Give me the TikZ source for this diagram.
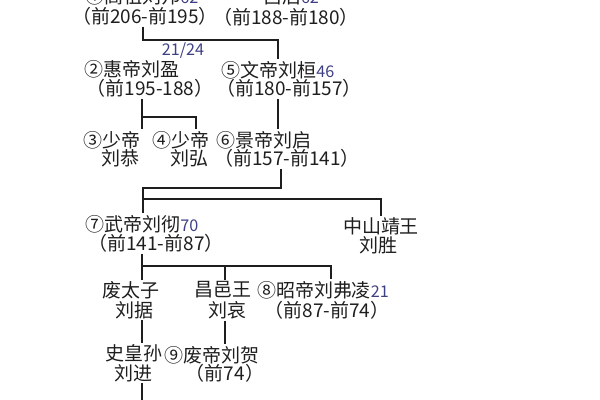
\documentclass[tikz,border=0pt]{standalone}
\usepackage{fontspec}
\setmainfont{Noto Sans CJK SC}
\definecolor{numcol}{RGB}{62,64,132}
\definecolor{inkcol}{RGB}{30,30,30}
\newcommand{\yrnum}[1]{\textcolor{numcol}{\fontsize{11.5}{13}\selectfont #1}}
\tikzset{
  my name/.style={
    inner sep=1pt,
    text=inkcol,
    font=\fontsize{13.5}{15}\selectfont
  },
  my link/.style={
    draw=inkcol,
    line width=1.2pt
  }
}

\begin{document}
\begin{tikzpicture}[x=0.025cm,y=-0.025cm,every node/.style={my name}]
\clip (0,0) rectangle (600,400);
% generation 1
\node (gaozu)  at (142,-4) {①高祖刘邦\yrnum{62}};
\node (gaozu2) at (145,16) {（前206-前195）};
\node (lvhou)  at (291,-4) {吕后\yrnum{62}};
\node (lvhou2) at (286,17) {（前188-前180）};
% generation 2
\node (ratio)  at (183,51) {\yrnum{21/24}};
\node (huidi)  at (132,69) {②惠帝刘盈};
\node (huidi2) at (150,88) {（前195-188）};
\node (wendi)  at (278,70) {⑤文帝刘桓\yrnum{46}};
\node (wendi2) at (289,88) {（前180-前157）};
% generation 3
\node (shao1)  at (112,140) {③少帝};
\node (shao12) at (120,158) {刘恭};
\node (shao2)  at (181,140) {④少帝};
\node (shao22) at (189,158) {刘弘};
\node (jingdi) at (264,140) {⑥景帝刘启};
\node (jingdi2) at (287,158) {（前157-前141）};
% generation 4
\node (wudi)   at (142,224) {⑦武帝刘彻\yrnum{70}};
\node (wudi2)  at (156,243) {（前141-前87）};
\node (zsw)    at (381,226) {中山靖王};
\node (zsw2)   at (378,245) {刘胜};
% generation 5
\node (taizi)  at (131,290) {废太子};
\node (taizi2) at (134,310) {刘据};
\node (changyi) at (223,290) {昌邑王};
\node (changyi2) at (227,310) {刘哀};
\node (zhaodi) at (323,290) {⑧昭帝刘弗凌\yrnum{21}};
\node (zhaodi2) at (327,310) {（前87-前74）};
% generation 6
\node (shsun)  at (134,353) {史皇孙};
\node (shsun2) at (133,373) {刘进};
\node (feidi)  at (212,355) {⑨废帝刘贺};
\node (feidi2) at (225,373) {（前74）};
% junctions
\coordinate (b1) at (143,40);
\coordinate (b2) at (142,117);
\coordinate (c2) at (196,117);
\coordinate (c3) at (281,177);
\coordinate (b3) at (143,188);
\coordinate (b4) at (143,199);
\coordinate (b5) at (142,266);
\coordinate (c5) at (225,266);
\coordinate (c6) at (331,266);
\coordinate (end) at (142,400);
% links
\draw[my link] (b1 |- gaozu2.south) -- (b1 |- ratio.north);
\draw[my link] (b1) -| (wendi.north);
\draw[my link] (b2 |- huidi2.south) -- (b2 |- shao1.north);
\draw[my link] (b2) -| (c2 |- shao2.north);
\draw[my link] (wendi.north |- wendi2.south) -- (wendi.north |- jingdi.north);
\draw[my link] (c3 |- jingdi2.south) |- (b3) -- (b3 |- wudi.north);
\draw[my link] (b4) -| (zsw.north);
\draw[my link] (b5 |- wudi2.south) -- (b5 |- taizi.north);
\draw[my link] (b5) -| (c5 |- changyi.north);
\draw[my link] (b5) -| (c6 |- zhaodi.north);
\draw[my link] (b5 |- taizi2.south) -- (b5 |- shsun.north);
\draw[my link] (c5 |- changyi2.south) -- (c5 |- feidi.north);
\draw[my link] (b5 |- shsun2.south) -- (end);
\end{tikzpicture}
\end{document}
